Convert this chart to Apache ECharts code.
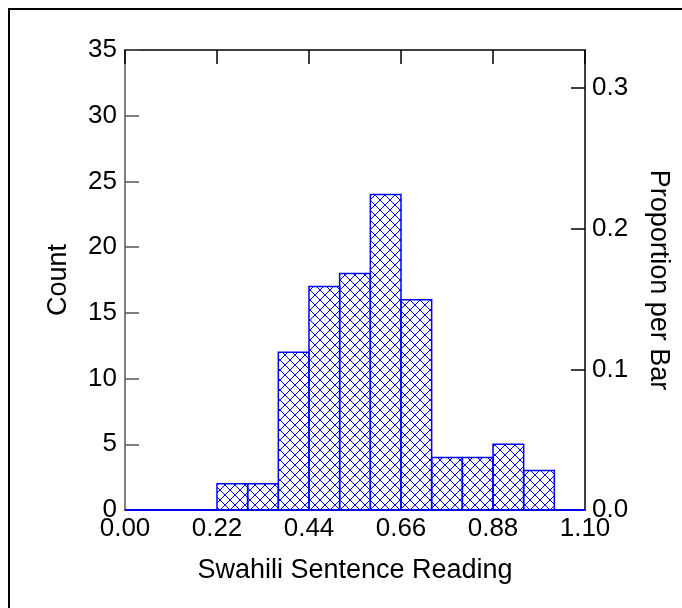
<!DOCTYPE html>
<html>
<head>
<meta charset="utf-8">
<script src="https://cdn.jsdelivr.net/npm/echarts@6/dist/echarts.min.js"></script>
<style>
  html, body { margin: 0; padding: 0; background: #fff; }
  #chart { width: 682px; height: 608px; }
</style>
</head>
<body>
<div id="chart"></div>
<script>
// ---- data ----
const binStarts = [0.2200, 0.2933, 0.3667, 0.4400, 0.5133, 0.5867, 0.6600, 0.7333, 0.8067, 0.8800, 0.9533];
const binEnds   = [0.2933, 0.3667, 0.4400, 0.5133, 0.5867, 0.6600, 0.7333, 0.8067, 0.8800, 0.9533, 1.0267];
const counts    = [2, 2, 12, 17, 18, 24, 16, 4, 4, 5, 3];
const xTicks    = [0.00, 0.22, 0.44, 0.66, 0.88, 1.10];
const countTicks = [0, 5, 10, 15, 20, 25, 30, 35];
const propTicks = [0.0, 0.1, 0.2, 0.3];
const xTitle = 'Swahili Sentence Reading';
const yTitle = 'Count';
const y2Title = 'Proportion per Bar';

const total = counts.reduce((a, b) => a + b, 0);
const countMax = 35;
const FONT = '"Liberation Sans", Arial, sans-serif';

// hatch pattern tile
const tile = document.createElement('canvas');
tile.width = 10; tile.height = 10;
(function () {
  const c = tile.getContext('2d');
  c.strokeStyle = '#0000ff';
  c.lineWidth = 1;
  c.beginPath();
  c.moveTo(-2, -2); c.lineTo(12, 12);
  c.moveTo(12, -2); c.lineTo(-2, 12);
  c.stroke();
})();

const histData = counts.map((c, i) => [binStarts[i], binEnds[i], c]);

const chart = echarts.init(document.getElementById('chart'), null, { renderer: 'canvas' });
chart.setOption({
  animation: false,
  backgroundColor: '#fff',
  graphic: [{
    type: 'rect', z: 0,
    shape: { x: 9, y: 9, width: 720, height: 720 },
    style: { fill: 'none', stroke: '#000', lineWidth: 2 }
  }],
  grid: { left: 125, top: 50, right: 97, bottom: 98, containLabel: false },
  xAxis: [{
    type: 'value', position: 'bottom', min: 0, max: 1.1, interval: 0.22,
    name: xTitle, nameLocation: 'middle', nameGap: 47,
    nameTextStyle: { fontFamily: FONT, fontSize: 27, color: '#000' },
    axisLine: { show: true, onZero: false, lineStyle: { color: '#000', width: 1.5 } },
    axisTick: { show: false },
    splitLine: { show: false },
    axisLabel: {
      customValues: xTicks,
      formatter: v => v.toFixed(2), margin: 6,
      fontFamily: FONT, fontSize: 26, color: '#000'
    }
  }, {
    type: 'value', position: 'top', min: 0, max: 1.1, interval: 0.22,
    axisLine: { show: true, onZero: false, lineStyle: { color: '#000', width: 1.5 } },
    axisTick: { show: true, inside: true, length: 14, customValues: xTicks, lineStyle: { color: '#000', width: 1.5 } },
    axisLabel: { show: false },
    splitLine: { show: false }
  }],
  yAxis: [{
    type: 'value', position: 'left', min: 0, max: countMax, interval: 5,
    name: yTitle, nameLocation: 'middle', nameGap: 53, nameRotate: 90,
    nameTextStyle: { fontFamily: FONT, fontSize: 27, color: '#000' },
    axisLine: { show: true, onZero: false, lineStyle: { color: '#555', width: 1.5 } },
    axisTick: { show: true, inside: true, length: 14, customValues: countTicks, lineStyle: { color: '#555', width: 1.5 } },
    splitLine: { show: false },
    axisLabel: { customValues: countTicks, margin: 8, fontFamily: FONT, fontSize: 26, color: '#000' }
  }, {
    type: 'value', position: 'right', min: 0, max: countMax / total,
    name: y2Title, nameLocation: 'middle', nameGap: 60, nameRotate: -90,
    nameTextStyle: { fontFamily: FONT, fontSize: 27, color: '#000' },
    axisLine: { show: true, onZero: false, lineStyle: { color: '#000', width: 1.5 } },
    axisTick: { show: true, inside: true, length: 14, customValues: propTicks, lineStyle: { color: '#000', width: 1.5 } },
    splitLine: { show: false },
    axisLabel: { customValues: propTicks, formatter: v => v.toFixed(1), margin: 7, fontFamily: FONT, fontSize: 26, color: '#000' }
  }],
  series: [{
    type: 'line', xAxisIndex: 0, yAxisIndex: 0,
    data: [[xTicks[0], 0], [xTicks[xTicks.length - 1], 0]],
    symbol: 'none', lineStyle: { color: '#0000ff', width: 2 }, z: 3, silent: true
  }, {
    type: 'custom', xAxisIndex: 0, yAxisIndex: 0, z: 4,
    data: histData,
    encode: { x: [0, 1], y: 2 },
    renderItem: function (params, api) {
      const p0 = api.coord([api.value(0), api.value(2)]);
      const p1 = api.coord([api.value(1), 0]);
      return {
        type: 'rect',
        shape: { x: p0[0], y: p0[1], width: p1[0] - p0[0], height: p1[1] - p0[1] },
        style: {
          fill: { image: tile, repeat: 'repeat' },
          stroke: '#0000ff', lineWidth: 1.5
        }
      };
    }
  }]
});
</script>
</body>
</html>
